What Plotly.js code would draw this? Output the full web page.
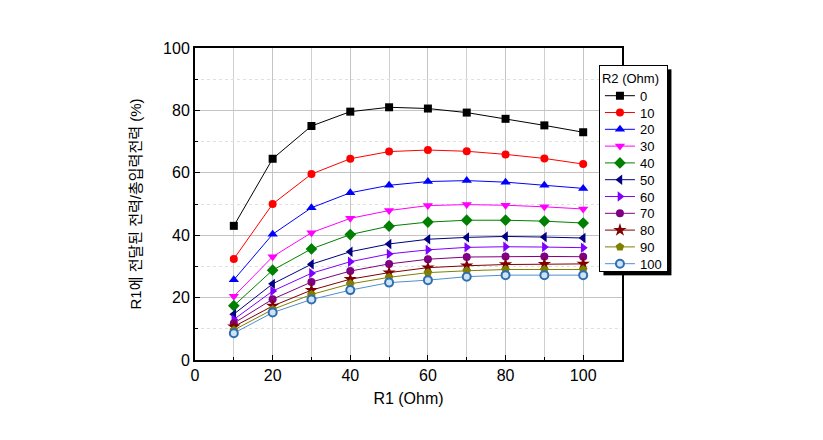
<!DOCTYPE html>
<html><head><meta charset="utf-8">
<script src="https://cdn.plot.ly/plotly-3.0.1.min.js"></script>
<style>body{margin:0;background:#fff}#chart{width:823px;height:440px}</style>
</head><body><div id="chart"></div>
<script>
const r1 = [10, 20, 30, 40, 50, 60, 70, 80, 90, 100];
const r2Labels = ["0", "10", "20", "30", "40", "50", "60", "70", "80", "90", "100"];
const s0   = [43.0, 64.5, 75.0, 79.6, 81.0, 80.6, 79.3, 77.3, 75.2, 73.0];
const s10  = [32.4, 50.0, 59.6, 64.5, 66.8, 67.3, 66.9, 65.9, 64.6, 62.8];
const s20  = [25.7, 40.3, 48.8, 53.6, 56.0, 57.2, 57.5, 57.0, 56.0, 55.0];
const s30  = [20.4, 33.1, 40.8, 45.4, 47.9, 49.5, 49.8, 49.6, 49.1, 48.4];
const s40  = [17.4, 28.8, 35.6, 40.2, 42.9, 44.2, 44.8, 44.8, 44.5, 43.9];
const s50  = [14.7, 24.4, 30.7, 34.7, 37.2, 38.7, 39.3, 39.6, 39.4, 39.1];
const s60  = [13.0, 22.1, 27.8, 31.5, 34.0, 35.3, 36.1, 36.3, 36.2, 36.0];
const s70  = [11.8, 19.5, 25.0, 28.5, 30.8, 32.3, 33.0, 33.2, 33.2, 33.1];
const s80  = [10.7, 17.3, 22.4, 25.9, 28.0, 29.6, 30.2, 30.6, 30.7, 30.8];
const s90  = [9.6, 16.2, 21.0, 24.4, 26.5, 28.0, 28.6, 29.0, 29.0, 29.0];
const s100 = [8.6, 15.2, 19.4, 22.4, 24.8, 25.6, 26.7, 27.2, 27.2, 27.2];
const seriesValues = [s0, s10, s20, s30, s40, s50, s60, s70, s80, s90, s100];

const colors = ["#000000", "#ff0000", "#0000ff", "#ff00ff", "#008000", "#000080", "#8000ff", "#800080", "#800000", "#808000", "#4f8fcf"];
const symbols = ["square", "circle", "triangle-up", "triangle-down", "diamond", "triangle-left", "triangle-right", "circle", "star", "pentagon", "circle"];
const sizes = [8, 8, 9, 9, 9, 9, 9, 8, 10, 9, 8];

const traces = seriesValues.map((vals, i) => ({
  type: "scatter", mode: "lines+markers", x: r1, y: vals, name: r2Labels[i],
  line: {color: colors[i], width: 1},
  marker: {symbol: symbols[i], size: sizes[i], color: i === 10 ? "#cfe3f7" : colors[i],
           line: {color: i === 10 ? "#2f6fb0" : colors[i], width: i === 10 ? 2 : 0}}
}));

const fnt = "Liberation Sans, Arial, Noto Sans CJK KR, sans-serif";
const layout = {
  width: 823, height: 440,
  margin: {l: 195, r: 201, t: 48, b: 80},
  paper_bgcolor: "#fff", plot_bgcolor: "#fff",
  font: {family: fnt, color: "#000", size: 16},
  showlegend: true,
  legend: {
    x: 0.946, y: 0.946, xanchor: "left", yanchor: "top",
    bgcolor: "#fff", bordercolor: "#000", borderwidth: 1,
    font: {size: 13, family: fnt}, itemwidth: 30,
    title: {text: "R2 (Ohm)", font: {size: 13, family: fnt}},
    tracegroupgap: 0
  },
  xaxis: {
    range: [0, 110], dtick: 20, tick0: 0,
    showline: true, linecolor: "#000", linewidth: 2, mirror: true,
    ticks: "inside", ticklen: 5, tickcolor: "#000",
    showgrid: true, gridcolor: "#c4c4c4", gridwidth: 1,
    minor: {dtick: 10, ticks: "inside", ticklen: 3, tickcolor: "#000", showgrid: true, gridcolor: "#d0d0d0"},
    zeroline: false,
    tickfont: {size: 16},
    title: {text: "R1 (Ohm)", font: {size: 16}, standoff: 10}
  },
  yaxis: {
    range: [0, 100], dtick: 20, tick0: 0,
    showline: true, linecolor: "#000", linewidth: 2, mirror: true,
    ticks: "inside", ticklen: 5, tickcolor: "#000",
    showgrid: true, gridcolor: "#c4c4c4", gridwidth: 1,
    minor: {dtick: 10, ticks: "inside", ticklen: 3, tickcolor: "#000", showgrid: true, gridcolor: "#e0e0e0", griddash: "dot"},
    zeroline: false,
    tickfont: {size: 16},
    title: {text: "R1에 전달된 전력/총입력전력 (%)", font: {size: 15}, standoff: 18}
  }
};

Plotly.newPlot("chart", traces, layout, {displayModeBar: false, staticPlot: true}).then(gd => {
  const leg = gd.querySelector(".legend");
  if (!leg) return;
  const items = Array.from(leg.querySelectorAll(".traces"));
  const spacing = 16.8;
  const lift = 2;
  let shrink = 0;
  if (items.length) {
    const parse = el => {
      const m = /translate\(\s*([-\d.e]+)[ ,]+([-\d.e]+)\s*\)/.exec(el.getAttribute("transform") || "");
      return m ? [parseFloat(m[1]), parseFloat(m[2])] : [0, 0];
    };
    const p0 = parse(items[0]);
    const pLast = parse(items[items.length - 1]);
    items.forEach((el, i) => {
      const p = parse(el);
      el.setAttribute("transform", "translate(" + p[0] + "," + (p0[1] - lift + i * spacing) + ")");
    });
    shrink = (pLast[1] - p0[1]) - (items.length - 1) * spacing + lift + 8;
  }
  const bg = leg.querySelector("rect.bg");
  if (bg) {
    const h = parseFloat(bg.getAttribute("height")) - shrink;
    bg.setAttribute("height", h);
    const w = parseFloat(bg.getAttribute("width"));
    const x = parseFloat(bg.getAttribute("x") || 0), y = parseFloat(bg.getAttribute("y") || 0);
    const sh = document.createElementNS("http://www.w3.org/2000/svg", "rect");
    sh.setAttribute("x", x + 4); sh.setAttribute("y", y + 4);
    sh.setAttribute("width", w); sh.setAttribute("height", h);
    sh.setAttribute("fill", "#000");
    leg.insertBefore(sh, bg);
    leg.querySelectorAll("clipPath rect").forEach(r => r.setAttribute("height", h));
  }
});
</script></body></html>
